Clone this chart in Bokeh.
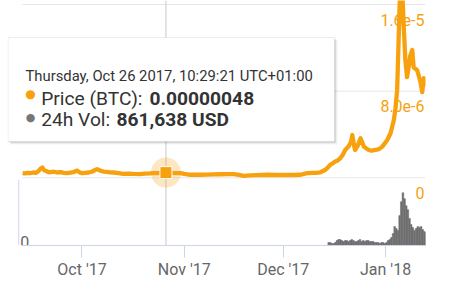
import pandas as pd
from bokeh.plotting import figure
from bokeh.models import (Range1d, LinearAxis, FixedTicker, Span,
                          BoxAnnotation, Label, ColumnDataSource)
from bokeh.core.properties import value
from bokeh.embed import file_html
from bokeh.resources import INLINE

# ---------------- data ----------------
price_dates = [
    "2017-09-13 00:00", "2017-09-13 18:00", "2017-09-14 12:00", "2017-09-15 06:00",
    "2017-09-16 06:00", "2017-09-17 00:00", "2017-09-17 12:00", "2017-09-18 12:00",
    "2017-09-19 00:00", "2017-09-19 12:00", "2017-09-20 12:00", "2017-09-21 00:00",
    "2017-09-21 12:00", "2017-09-22 12:00", "2017-09-23 12:00", "2017-09-24 12:00",
    "2017-09-25 12:00", "2017-09-26 12:00", "2017-09-27 12:00", "2017-09-28 12:00",
    "2017-09-29 12:00", "2017-09-30 06:00", "2017-10-01 00:00", "2017-10-02 00:00",
    "2017-10-03 00:00", "2017-10-04 00:00", "2017-10-05 00:00", "2017-10-05 14:00",
    "2017-10-06 12:00", "2017-10-07 12:00", "2017-10-08 12:00", "2017-10-09 12:00",
    "2017-10-10 12:00", "2017-10-11 12:00", "2017-10-12 12:00", "2017-10-13 14:00",
    "2017-10-15 00:00", "2017-10-16 12:00", "2017-10-18 12:00", "2017-10-20 00:00",
    "2017-10-21 12:00", "2017-10-22 18:00", "2017-10-24 00:00", "2017-10-25 06:00",
    "2017-10-26 10:29", "2017-10-27 12:00", "2017-10-28 12:00", "2017-10-29 12:00",
    "2017-10-30 18:00", "2017-11-01 00:00", "2017-11-02 20:00", "2017-11-04 12:00",
    "2017-11-06 00:00", "2017-11-08 00:00", "2017-11-10 00:00", "2017-11-12 00:00",
    "2017-11-14 00:00", "2017-11-16 00:00", "2017-11-17 12:00", "2017-11-19 00:00",
    "2017-11-21 00:00", "2017-11-23 00:00", "2017-11-26 06:00", "2017-11-29 00:00",
    "2017-12-02 00:00", "2017-12-04 00:00", "2017-12-06 06:00", "2017-12-08 06:00",
    "2017-12-10 00:00", "2017-12-11 00:00", "2017-12-12 06:00", "2017-12-13 18:00",
    "2017-12-14 12:00", "2017-12-15 06:00", "2017-12-16 00:00", "2017-12-16 18:00",
    "2017-12-17 12:00", "2017-12-18 06:00", "2017-12-19 00:00", "2017-12-19 18:00",
    "2017-12-20 18:00", "2017-12-21 12:00", "2017-12-21 22:00", "2017-12-22 12:00",
    "2017-12-22 18:00", "2017-12-23 10:00", "2017-12-24 10:00", "2017-12-25 10:00",
    "2017-12-26 00:00", "2017-12-26 22:00", "2017-12-27 18:00", "2017-12-28 22:00",
    "2017-12-30 00:00", "2017-12-31 00:00", "2018-01-01 12:00", "2018-01-02 12:00",
    "2018-01-03 12:00", "2018-01-04 00:00", "2018-01-04 12:00", "2018-01-05 00:00",
    "2018-01-05 12:00", "2018-01-06 02:00", "2018-01-06 12:00", "2018-01-07 00:00",
    "2018-01-07 12:00", "2018-01-08 02:00", "2018-01-08 12:00", "2018-01-09 02:00",
    "2018-01-09 12:00", "2018-01-10 14:00", "2018-01-11 14:00", "2018-01-12 02:00",
    "2018-01-12 14:00", "2018-01-13 02:00",
]
price_btc = [
    4.3e-7, 4.0e-7, 4.6e-7, 4.3e-7,
    4.9e-7, 4.6e-7, 5.4e-7, 8.5e-7,
    9.6e-7, 7.0e-7, 5.8e-7, 5.0e-7,
    5.2e-7, 5.6e-7, 4.9e-7, 5.2e-7,
    4.6e-7, 4.3e-7, 4.8e-7, 5.3e-7,
    6.7e-7, 5.0e-7, 4.3e-7, 4.6e-7,
    4.9e-7, 5.6e-7, 7.2e-7, 8.0e-7,
    6.6e-7, 5.8e-7, 5.5e-7, 5.1e-7,
    4.9e-7, 4.5e-7, 4.1e-7, 3.7e-7,
    3.9e-7, 3.6e-7, 3.4e-7, 3.8e-7,
    4.0e-7, 4.3e-7, 4.4e-7, 4.6e-7,
    4.8e-7, 4.9e-7, 4.6e-7, 4.4e-7,
    4.3e-7, 3.6e-7, 2.8e-7, 3.0e-7,
    2.8e-7, 3.0e-7, 3.2e-7, 3.3e-7,
    3.4e-7, 3.4e-7, 2.6e-7, 1.8e-7,
    2.2e-7, 2.4e-7, 2.8e-7, 2.6e-7,
    2.7e-7, 2.6e-7, 2.8e-7, 4.3e-7,
    4.5e-7, 4.6e-7, 5.1e-7, 7.4e-7,
    9.5e-7, 1.2e-6, 1.35e-6, 1.5e-6,
    1.6e-6, 1.8e-6, 2.1e-6, 2.57e-6,
    2.88e-6, 3.3e-6, 3.95e-6, 2.9e-6,
    2.57e-6, 2.88e-6, 3.65e-6, 2.88e-6,
    2.75e-6, 2.57e-6, 2.5e-6, 2.57e-6,
    2.65e-6, 2.88e-6, 3.49e-6, 4.11e-6,
    5.33e-6, 6.44e-6, 8.09e-6, 1.33e-5,
    1.85e-5, 1.7e-5, 1.39e-5, 1.085e-5,
    9.29e-6, 1.04e-5, 1.13e-5, 1.18e-5,
    1.02e-5, 9.93e-6, 8.83e-6, 7.91e-6,
    9.2e-6, 8.46e-6,
]

# 24h volume, 12-hour bins starting 2017-12-14 00:00 (million USD)
vol_start = "2017-12-14 00:00"
vol_musd = [
    0, 3, 3, 2, 2, 3, 5, 6, 6, 5, 4, 5, 5, 4, 5, 6, 5, 4, 4, 5,
    6, 4, 5, 4, 5, 5, 4, 4, 4, 3, 3, 3, 2, 3, 3, 2, 3, 5, 6, 8,
    12, 19, 17, 15, 30, 44, 53, 47, 40, 36, 27, 21, 18, 15, 17, 19,
    18, 19, 16, 14, 13,
]

tick_dates = ["2017-10-01", "2017-11-01", "2017-12-01", "2018-01-01"]
tick_labels = ["Oct '17", "Nov '17", "Dec '17", "Jan '18"]
price_ticks = [0, 8e-6, 1.6e-5]
price_tick_labels = ["0", "8.0e-6", "1.6e-5"]

hover_date = "2017-10-26 10:29:21"
hover_price = 4.8e-7
hover_vol_usd = 861638

# ---------------- styles ----------------
ORANGE = "#f8a10f"
GREY_BAR = "#6e6e6e"
AXIS = "#ccd6eb"
FONT = "Roboto"

plot_start = pd.Timestamp("2017-09-12 23:17")   # left edge of the data area
plot_end = pd.Timestamp("2018-01-13 02:10")     # right edge of the data area
frame_start = plot_start - pd.Timedelta(days=4.545)  # room for the tooltip box
vol_axis_x = plot_start - pd.Timedelta(hours=27)

p = figure(width=473, height=281, output_backend="svg", toolbar_location=None,
           x_axis_type=None, y_axis_type=None,
           x_range=Range1d(frame_start, plot_end),
           y_range=Range1d(-6.25e-6, 1.637e-5),
           min_border_left=7, min_border_right=48,
           min_border_top=0, min_border_bottom=35)
p.outline_line_color = None
p.background_fill_color = "white"
p.border_fill_color = "white"
p.extra_y_ranges = {"vol": Range1d(0, 246e6)}

# price grid lines across the data area
n = len(price_ticks)
p.segment(x0=[plot_start] * n, x1=[plot_end] * n, y0=price_ticks, y1=price_ticks,
          line_color="#e6e6e6", line_width=1, level="underlay")

# x axis
tick_ms = [int(pd.Timestamp(d).value // 10**6) for d in tick_dates]
xaxis = LinearAxis(ticker=FixedTicker(ticks=tick_ms),
                   major_label_overrides={t: l for t, l in zip(tick_ms, tick_labels)},
                   bounds=(int(plot_start.value // 10**6), int(plot_end.value // 10**6)))
xaxis.axis_line_color = AXIS
xaxis.major_tick_line_color = AXIS
xaxis.major_tick_out = 12
xaxis.major_tick_in = 0
xaxis.minor_tick_line_color = None
xaxis.major_label_text_color = "#666666"
xaxis.major_label_text_font = FONT
xaxis.major_label_text_font_size = "16px"
xaxis.major_label_standoff = 2
p.add_layout(xaxis, "below")

# volume axis line (left of the volume pane)
p.segment(x0=[vol_axis_x], x1=[vol_axis_x], y0=[0], y1=[66e6], y_range_name="vol",
          line_color=AXIS, line_width=1)

# crosshair
hover_ts = pd.Timestamp(hover_date)
p.add_layout(Span(location=hover_ts, dimension="height", line_color="#c8c8c8",
                  line_width=1, level="underlay"))

# price axis labels inside plot
p.text(x=[plot_end] * n, y=price_ticks, text=price_tick_labels,
       text_align="right", text_baseline="alphabetic", x_offset=-1, y_offset=15,
       text_color=ORANGE, text_font=value(FONT), text_font_size="16px")

# volume "0" label
p.text(x=[vol_axis_x], y=[0], text=["0"], y_range_name="vol", x_offset=1.5,
       y_offset=-4, text_color="#666666", text_font=value(FONT),
       text_font_size="16px", text_baseline="alphabetic")

# volume bars
vol_dates = pd.date_range(vol_start, periods=len(vol_musd), freq="12h") + pd.Timedelta(hours=6)
vsrc = ColumnDataSource(dict(x=vol_dates, top=[v * 1e6 for v in vol_musd]))
p.vbar(x="x", top="top", bottom=0, width=12 * 3600 * 1000, source=vsrc,
       y_range_name="vol", fill_color=GREY_BAR, line_color=GREY_BAR, line_width=0.5)

# price line
psrc = ColumnDataSource(dict(x=pd.to_datetime(price_dates), y=price_btc))
p.line(x="x", y="y", source=psrc, line_color=ORANGE, line_width=4.3,
       line_join="round")

# hover marker
p.scatter(x=[hover_ts], y=[hover_price], marker="circle", size=30,
          fill_color=ORANGE, fill_alpha=0.25, line_color=None)
p.scatter(x=[hover_ts], y=[hover_price], marker="square", size=12,
          fill_color=ORANGE, line_color="white", line_width=1)

# tooltip (screen units relative to frame: x from left, y from bottom)
BL, BR, BT, BB = 0.5, 327, 208, 104
for off, alpha in [(3, 0.04), (2, 0.07), (1, 0.1)]:
    p.add_layout(BoxAnnotation(left=BL + off, right=BR + off, top=BT - off,
                               bottom=BB - off, left_units="screen",
                               right_units="screen", top_units="screen",
                               bottom_units="screen", fill_color="black",
                               fill_alpha=alpha, line_color=None))
p.add_layout(BoxAnnotation(left=BL, right=BR, top=BT, bottom=BB,
                           left_units="screen", right_units="screen",
                           top_units="screen", bottom_units="screen",
                           fill_color="white", fill_alpha=1.0,
                           line_color="#c4c4c4", line_width=1))

date_txt = hover_ts.strftime("%A, %b %d %Y, %H:%M:%S") + " UTC+01:00"
price_txt = f"{hover_price:.8f}"
vol_txt = f"{hover_vol_usd:,} USD"

def lab(x, y, text, size, color="#333333", style="normal", font=FONT,
        align="left", baseline="alphabetic"):
    p.add_layout(Label(x=x, y=y, x_units="screen", y_units="screen", text=text,
                       text_font=font, text_font_size=size, text_color=color,
                       text_font_style=style, text_align=align,
                       text_baseline=baseline))

lab(18, 170, date_txt, "14.8px")
lab(23, 151.7, "\u25CF", "12px", color=ORANGE, font="DejaVu Sans",
    align="center", baseline="middle")
lab(33.7, 146.7, "Price (BTC): ", "19.2px")
lab(142, 146.7, price_txt, "19.2px", style="bold")
lab(23, 128, "\u25CF", "11px", color="#777777", font="DejaVu Sans",
    align="center", baseline="middle")
lab(33.7, 126, "24h Vol: ", "19.2px")
lab(109, 126, vol_txt, "19.2px", style="bold")

open("out.html", "w").write(file_html(p, INLINE))
